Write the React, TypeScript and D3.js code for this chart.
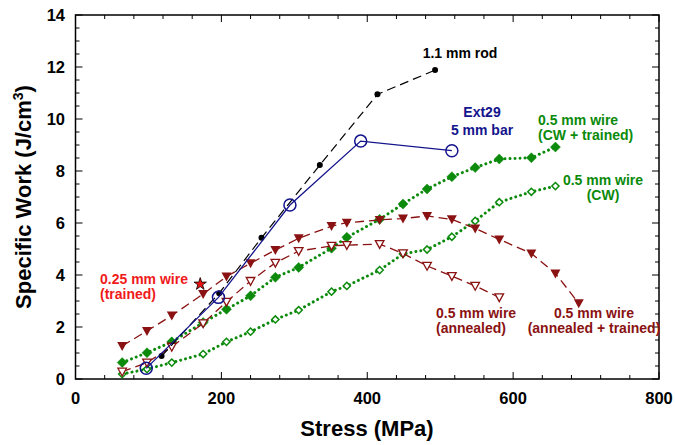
import React from "react";
import * as d3 from "d3";

// ---- data ----
const rodStress = [118, 197, 255, 335, 414, 493];
const rodWork = [0.88, 3.3, 5.43, 8.23, 10.95, 11.88];

const ext29Stress = [97, 196, 294, 391, 516];
const ext29Work = [0.41, 3.14, 6.69, 9.15, 8.78];

const cwTrainedStress = [64, 98, 132, 175, 207, 240, 274, 306, 351, 372, 417, 449, 482, 516, 548, 581, 625, 658];
const cwTrainedWork = [0.63, 1.01, 1.43, 2.17, 2.68, 3.2, 3.91, 4.29, 5.03, 5.45, 6.14, 6.73, 7.31, 7.78, 8.13, 8.46, 8.51, 8.92];

const cwStress = [64, 98, 132, 175, 207, 240, 274, 306, 351, 372, 417, 449, 482, 516, 548, 581, 625, 658];
const cwWork = [0.19, 0.38, 0.63, 0.96, 1.43, 1.82, 2.29, 2.65, 3.36, 3.58, 4.19, 4.81, 4.98, 5.47, 6.08, 6.8, 7.2, 7.42];

const annTrainedStress = [64, 98, 132, 175, 207, 240, 274, 306, 351, 372, 417, 449, 482, 516, 548, 581, 625, 658, 690];
const annTrainedWork = [1.27, 1.85, 2.44, 3.27, 3.94, 4.45, 4.96, 5.41, 5.88, 6.01, 6.12, 6.17, 6.27, 6.14, 5.79, 5.37, 4.83, 4.06, 2.91];

const annealedStress = [64, 98, 132, 175, 207, 240, 274, 306, 351, 372, 417, 449, 482, 516, 548, 581];
const annealedWork = [0.28, 0.63, 1.24, 2.14, 2.97, 3.77, 4.47, 4.92, 5.12, 5.15, 5.19, 4.83, 4.35, 3.96, 3.58, 3.14];

const starStress = [171];
const starWork = [3.65];

const xTickLabels = [0, 200, 400, 600, 800];
const yTickLabels = [0, 2, 4, 6, 8, 10, 12, 14];

const FONT = "'Liberation Sans', Arial, Helvetica, sans-serif";
const GREEN = "#0b8a0b";
const DRED = "#8a1212";
const NAVY = "#14148c";

export default function App() {
  const W = 675, H = 445;
  const x = d3.scaleLinear().domain([0, 800]).range([75.5, 659]);
  const y = d3.scaleLinear().domain([0, 14]).range([379, 15]);
  const [x0, x1] = x.range();
  const [y0, y1] = y.range();

  const line = (xs: number[], ys: number[]) =>
    d3.line<number>().x((_, i) => x(xs[i])).y((_, i) => y(ys[i]))(xs) || "";

  const xMinor = d3.range(0, 801, 40);
  const yMinor = d3.range(0, 14.01, 0.5);

  const triDown = "M-5,-4L5,-4L0,5Z";
  const triDownOpen = "M-4.3,-3.5L4.3,-3.5L0,4.3Z";
  const diamond = "M0,-5L5,0L0,5L-5,0Z";
  const diamondOpen = "M0,-3.6L3.6,0L0,3.6L-3.6,0Z";
  const star = d3.symbol().type(d3.symbolStar).size(48)() || "";

  return (
    <div style={{ position: "fixed", left: 0, top: 0 }}>
      <svg width={W} height={H} style={{ display: "block", background: "#fff" }} fontFamily={FONT}>
        {/* ticks */}
        {xMinor.map((v) => {
          const major = v % 200 === 0;
          const len = major ? 7 : 4;
          return (
            <g key={"xt" + v} stroke="#000" strokeWidth={1}>
              <line x1={x(v)} x2={x(v)} y1={y0} y2={y0 - len} />
              <line x1={x(v)} x2={x(v)} y1={y1} y2={y1 + len} />
            </g>
          );
        })}
        {yMinor.map((v) => {
          const major = Math.abs(v % 2) < 1e-6;
          const len = major ? 7 : 4;
          return (
            <g key={"yt" + v} stroke="#000" strokeWidth={1}>
              <line x1={x0} x2={x0 + len} y1={y(v)} y2={y(v)} />
              <line x1={x1} x2={x1 - len} y1={y(v)} y2={y(v)} />
            </g>
          );
        })}
        <rect x={x0} y={y1} width={x1 - x0} height={y0 - y1} fill="none" stroke="#000" strokeWidth={1.5} />

        {/* tick labels */}
        {xTickLabels.map((v) => (
          <text key={"xl" + v} x={x(v)} y={404} textAnchor="middle" fontSize={16.5} fontWeight="bold">
            {v}
          </text>
        ))}
        {yTickLabels.map((v) => (
          <text key={"yl" + v} x={65} y={y(v)} dy="0.36em" textAnchor="end" fontSize={16.5} fontWeight="bold">
            {v}
          </text>
        ))}

        {/* axis titles */}
        <text x={367} y={436} textAnchor="middle" fontSize={22} fontWeight="bold">
          Stress (MPa)
        </text>
        <text transform="translate(31,197) rotate(-90)" textAnchor="middle" fontSize={22} fontWeight="bold">
          Specific Work (J/cm<tspan fontSize={14} dy={-8}>3</tspan>
          <tspan dy={8}>)</tspan>
        </text>

        {/* green series */}
        <path d={line(cwStress, cwWork)} fill="none" stroke={GREEN} strokeWidth={3} strokeDasharray="0.01 5" strokeLinecap="round" />
        <path d={line(cwTrainedStress, cwTrainedWork)} fill="none" stroke={GREEN} strokeWidth={3} strokeDasharray="0.01 5" strokeLinecap="round" />
        {cwStress.map((s, i) => (
          <path key={"cw" + i} d={diamondOpen} transform={`translate(${x(s)},${y(cwWork[i])})`} fill="#fff" stroke={GREEN} strokeWidth={1.5} />
        ))}
        {cwTrainedStress.map((s, i) => (
          <path key={"cwt" + i} d={diamond} transform={`translate(${x(s)},${y(cwTrainedWork[i])})`} fill={GREEN} stroke={GREEN} strokeWidth={0.5} />
        ))}

        {/* dark red series */}
        <path d={line(annealedStress, annealedWork)} fill="none" stroke={DRED} strokeWidth={1.3} strokeDasharray="9 5" />
        <path d={line(annTrainedStress, annTrainedWork)} fill="none" stroke={DRED} strokeWidth={1.3} strokeDasharray="9 5" />
        {annealedStress.map((s, i) => (
          <path key={"an" + i} d={triDownOpen} transform={`translate(${x(s)},${y(annealedWork[i])})`} fill="#fff" stroke={DRED} strokeWidth={1.3} />
        ))}
        {annTrainedStress.map((s, i) => (
          <path key={"at" + i} d={triDown} transform={`translate(${x(s)},${y(annTrainedWork[i])})`} fill={DRED} />
        ))}

        {/* rod */}
        <path d={line(rodStress, rodWork)} fill="none" stroke="#000" strokeWidth={1.2} strokeDasharray="9 5" />
        {rodStress.map((s, i) => (
          <circle key={"rod" + i} cx={x(s)} cy={y(rodWork[i])} r={3} fill="#000" />
        ))}

        {/* Ext29 */}
        <path d={line(ext29Stress, ext29Work)} fill="none" stroke={NAVY} strokeWidth={1.3} />
        {ext29Stress.map((s, i) => (
          <circle key={"ext" + i} cx={x(s)} cy={y(ext29Work[i])} r={6} fill="none" stroke={NAVY} strokeWidth={1.5} />
        ))}

        {/* star */}
        {starStress.map((s, i) => (
          <path key={"st" + i} d={star} transform={`translate(${x(s)},${y(starWork[i])})`} fill="#ee1111" stroke="#000" strokeWidth={0.8} />
        ))}

        {/* annotations */}
        <g fontSize={14} fontWeight="bold">
          <text x={460} y={58} textAnchor="middle" fill="#000">1.1 mm rod</text>
          <text x={482} y={117} textAnchor="middle" fill={NAVY}>Ext29</text>
          <text x={482} y={135} textAnchor="middle" fill={NAVY}>5 mm bar</text>
          <text x={538} y={125} fill={GREEN}>0.5 mm wire</text>
          <text x={538} y={140} fill={GREEN}>(CW + trained)</text>
          <text x={603} y={185} textAnchor="middle" fill={GREEN}>0.5 mm wire</text>
          <text x={603} y={200} textAnchor="middle" fill={GREEN}>(CW)</text>
          <text x={100} y={284} fill="#f01a1a">0.25 mm wire</text>
          <text x={100} y={299} fill="#f01a1a">(trained)</text>
          <text x={436} y={318} fill={DRED}>0.5 mm wire</text>
          <text x={436} y={333} fill={DRED}>(annealed)</text>
          <text x={594} y={318} textAnchor="middle" fill={DRED}>0.5 mm wire</text>
          <text x={594} y={333} textAnchor="middle" fill={DRED}>(annealed + trained)</text>
        </g>
      </svg>
    </div>
  );
}
